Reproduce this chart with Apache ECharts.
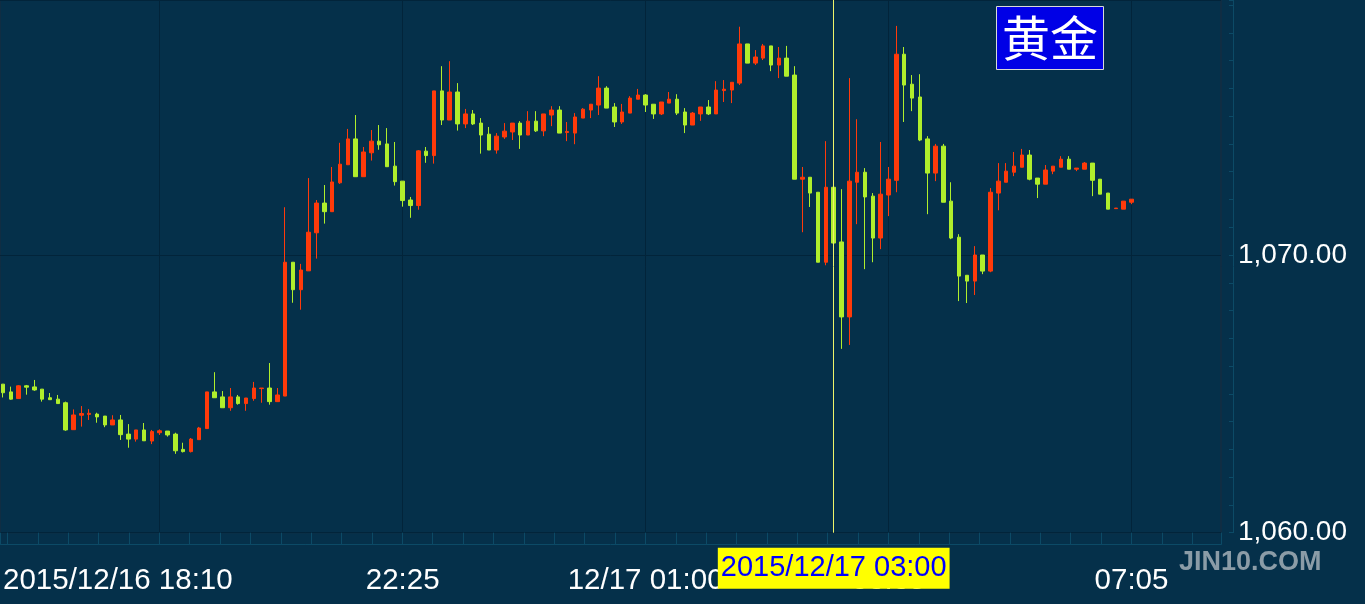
<!DOCTYPE html>
<html><head><meta charset="utf-8">
<script src="https://cdn.jsdelivr.net/npm/echarts@6/dist/echarts.min.js"></script>
<style>html,body{margin:0;padding:0;background:#05304a;}#c{width:1365px;height:604px;}</style>
</head><body><div id="c"></div>
<script>
// ---- data (5-minute candles, gold) ----
const opens = [1065.35,1065.07,1064.83,1065.29,1065.25,1065.17,1064.86,1064.81,1064.68,1063.71,
1064.23,1064.26,1064.27,1064.20,1063.88,1064.06,1063.55,1063.37,1063.70,1063.30,
1063.60,1063.66,1063.55,1063.00,1062.92,1063.35,1063.75,1065.07,1064.89,1064.50,
1064.89,1064.65,1064.83,1065.19,1065.21,1064.72,1064.92,1069.74,1068.75,1069.43,
1070.80,1071.87,1071.56,1072.60,1073.25,1074.18,1072.82,1073.68,1074.10,1074.00,
1073.20,1072.66,1071.98,1071.78,1073.74,1073.58,1075.91,1074.86,1075.87,1074.72,
1075.08,1074.75,1074.35,1073.78,1074.25,1074.43,1074.75,1074.32,1074.82,1074.47,
1075.04,1075.22,1074.41,1074.39,1074.93,1075.22,1075.40,1076.01,1075.33,1074.79,
1075.11,1075.61,1075.76,1075.43,1075.08,1075.47,1075.61,1075.15,1074.68,1075.08,
1075.33,1075.08,1075.92,1075.94,1076.19,1077.60,1076.91,1077.09,1077.53,1076.84,
1077.09,1076.48,1072.73,1072.80,1072.26,1069.74,1072.44,1070.47,1067.77,1072.62,
1072.98,1072.12,1070.61,1072.16,1072.69,1077.23,1076.15,1075.69,1074.18,1072.95,
1073.92,1071.94,1070.64,1069.27,1069.06,1070.00,1069.42,1072.23,1072.62,1072.98,
1073.16,1073.60,1072.77,1072.55,1073.02,1073.16,1073.45,1073.09,1073.09,1073.31,
1072.73,1072.23,1071.67,1071.65,1071.90];
const closes = [1065.04,1064.81,1065.29,1065.24,1065.14,1064.81,1064.79,1064.65,1063.70,1064.24,
1064.29,1064.30,1064.17,1063.88,1064.06,1063.53,1063.37,1063.70,1063.31,1063.64,
1063.67,1063.52,1062.95,1062.92,1063.37,1063.77,1065.07,1064.86,1064.50,1064.89,
1064.65,1064.85,1065.21,1065.21,1064.72,1064.96,1069.74,1068.75,1069.46,1070.82,
1071.87,1071.56,1072.63,1073.27,1074.18,1072.82,1073.71,1074.10,1073.97,1073.18,
1072.64,1071.96,1071.78,1073.75,1073.58,1075.91,1074.86,1075.87,1074.72,1075.08,
1074.72,1074.32,1073.78,1074.28,1074.46,1074.75,1074.32,1074.82,1074.47,1075.08,
1075.22,1074.39,1074.45,1074.97,1075.25,1075.43,1076.01,1075.29,1074.79,1075.15,
1075.65,1075.76,1075.40,1075.08,1075.51,1075.61,1075.11,1074.68,1075.11,1075.33,
1075.08,1075.94,1075.97,1076.22,1077.60,1076.91,1077.13,1077.53,1076.84,1077.09,
1076.44,1072.73,1072.80,1072.23,1069.74,1072.44,1070.43,1067.77,1072.66,1072.98,
1072.09,1070.61,1072.19,1072.73,1077.23,1076.12,1075.65,1074.14,1072.95,1073.92,
1071.90,1070.61,1069.24,1069.06,1070.00,1069.42,1072.26,1072.66,1073.02,1073.20,
1073.60,1072.73,1072.55,1073.06,1073.20,1073.45,1073.09,1073.13,1073.31,1072.69,
1072.19,1071.65,1071.69,1071.94,1072.01];
const lows = [1064.87,1064.79,1064.83,1064.97,1065.11,1064.72,1064.79,1064.65,1063.67,1063.71,
1063.82,1064.06,1063.96,1063.80,1063.88,1063.34,1063.06,1063.28,1063.31,1063.19,
1063.52,1063.46,1062.84,1062.89,1062.89,1063.35,1063.75,1064.86,1064.50,1064.39,
1064.61,1064.39,1064.75,1064.68,1064.61,1064.72,1064.92,1068.28,1068.03,1069.43,
1069.87,1071.13,1071.56,1072.56,1073.25,1072.82,1072.82,1073.40,1073.79,1073.18,
1072.50,1071.74,1071.34,1071.63,1073.32,1073.29,1074.68,1074.86,1074.48,1074.57,
1074.68,1073.65,1073.78,1073.65,1074.18,1074.14,1073.82,1074.32,1074.43,1074.28,
1074.64,1074.39,1074.10,1073.99,1074.93,1074.93,1075.04,1075.29,1074.61,1074.72,
1075.11,1075.61,1075.15,1074.90,1075.04,1075.47,1075.04,1074.39,1074.68,1074.83,
1075.04,1075.08,1075.51,1075.47,1076.12,1076.91,1076.84,1077.02,1076.62,1076.37,
1076.44,1072.73,1070.82,1071.73,1069.74,1069.63,1070.20,1066.62,1066.76,1071.11,
1069.49,1069.74,1070.21,1071.40,1072.26,1074.79,1075.18,1074.10,1071.47,1072.66,
1071.90,1070.57,1068.34,1068.27,1068.56,1069.31,1069.38,1071.61,1072.62,1072.84,
1073.16,1072.69,1072.05,1072.55,1072.91,1073.16,1073.09,1073.02,1073.09,1072.12,
1072.19,1071.65,1071.67,1071.65,1071.83];
const highs = [1065.35,1065.26,1065.31,1065.32,1065.50,1065.17,1065.03,1064.96,1064.72,1064.44,
1064.56,1064.45,1064.32,1064.20,1064.23,1064.24,1063.91,1063.70,1063.95,1063.70,
1063.72,1063.66,1063.60,1063.24,1063.41,1063.81,1065.07,1065.78,1065.10,1065.21,
1064.96,1064.85,1065.43,1065.21,1066.11,1065.21,1071.72,1069.74,1069.68,1072.77,
1071.98,1072.52,1073.17,1074.04,1074.54,1075.04,1073.89,1074.50,1074.68,1074.57,
1074.07,1072.66,1072.09,1073.78,1073.89,1075.91,1076.80,1076.98,1076.19,1075.26,
1075.22,1074.93,1074.61,1074.39,1074.75,1074.75,1074.82,1075.18,1075.18,1075.08,
1075.36,1075.36,1074.79,1075.11,1075.29,1075.43,1076.44,1076.08,1075.47,1075.44,
1075.72,1075.98,1075.79,1075.43,1075.51,1075.87,1075.79,1075.29,1075.15,1075.33,
1075.58,1076.26,1076.30,1076.22,1078.22,1077.60,1077.38,1077.60,1077.53,1077.49,
1077.53,1076.80,1073.17,1072.80,1072.26,1074.10,1072.60,1072.37,1076.37,1074.89,
1073.13,1072.23,1074.07,1073.17,1078.25,1077.49,1076.48,1076.51,1074.28,1074.00,
1074.00,1072.62,1070.75,1069.27,1070.32,1070.00,1072.41,1073.31,1073.31,1073.71,
1073.82,1073.78,1072.77,1073.24,1073.20,1073.56,1073.56,1073.13,1073.35,1073.31,
1072.73,1072.23,1071.69,1071.94,1072.01];
const tickLabels = {0:'2015/12/16 18:10', 51:'22:25', 82:'12/17 01:00', 113:'03:35', 144:'07:05'};
const gridIndices = [20, 51, 82, 113, 144];
const slotCount = 156;
const categories = Array.from({length: slotCount}, (_, i) => String(i));
const crosshairIndex = 106;
const crosshairLabel = '2015/12/17 03:00';
const yMin = 1060, yLabelStep = 10, yMinorStep = 1;
const instrument = '黄金';
const watermark = 'JIN10.COM';

// ---- layout ----
const W = 1365, H = 604;
const firstX = 2.5, step = 7.84;
const frameRight = 1221, frameBottom = 532.7, pxPerUnit = 27.77;
const yTop = yMin + frameBottom / pxPerUnit;   // value at the top edge of the plot
const gridBottom = H - frameBottom;
const candleRight = firstX + (slotCount - 1) * step;
const minorPx = 31 * step / 8;
const anchorPx = firstX + gridIndices[0] * step;

const BG = '#05304a', GRID = '#02243a', FRAME = '#1c2b3d', OUTER = '#0c4a66';
const UP = '#ff3a0a', DOWN = '#b0ee2c';
const FONT = 'Liberation Sans, Arial, sans-serif';
const fmt = (v) => v.toLocaleString('en-US', {minimumFractionDigits: 2, maximumFractionDigits: 2});

const chart = echarts.init(document.getElementById('c'), null, {renderer: 'canvas'});
chart.setOption({
  backgroundColor: BG,
  animation: false,
  axisPointer: {triggerOn: 'none'},
  title: [
    {text: instrument, left: 996, top: 6, padding: [8, 6], backgroundColor: '#0000e6',
     borderColor: '#d8d8d8', borderWidth: 1,
     textStyle: {color: '#ffffff', fontSize: 48, fontWeight: 'normal', lineHeight: 48,
       fontFamily: 'Noto Sans CJK SC'}},
    {text: watermark, left: 1179, top: 549, padding: 0,
     textStyle: {color: '#8b9ca7', fontSize: 27, fontWeight: 'bold', fontFamily: FONT}}
  ],
  grid: [
    {left: firstX, right: W - candleRight, top: 0, bottom: gridBottom, show: false},
    {left: 0, right: W - frameRight, top: 0, bottom: gridBottom, show: true,
     borderColor: FRAME, borderWidth: 1, backgroundColor: 'transparent'}
  ],
  xAxis: [
    {type: 'category', gridIndex: 0, data: categories, boundaryGap: false, offset: 12,
     axisLine: {show: false, onZero: false}, axisTick: {show: false},
     axisLabel: {interval: (i) => tickLabels[i] !== undefined, formatter: (v, i) => tickLabels[i] || '',
       alignMinLabel: 'left', margin: 21, fontSize: 29.5, color: '#ffffff', fontFamily: FONT},
     splitLine: {show: true, interval: (i) => gridIndices.includes(i), lineStyle: {color: GRID, width: 1}},
     axisPointer: {show: true, type: 'line', value: crosshairIndex, status: 'show', snap: true,
       triggerTooltip: false,
       lineStyle: {color: '#eef36a', width: 1, type: 'solid'},
       label: {show: true, formatter: () => crosshairLabel, backgroundColor: '#ffff00', color: '#0000ff',
         fontSize: 29, fontFamily: FONT, padding: [6, 3], margin: 3, borderRadius: 0}}},
    {type: 'value', gridIndex: 1, min: (0 - anchorPx) / minorPx, max: (frameRight - anchorPx) / minorPx,
     minInterval: 1, maxInterval: 1, position: 'bottom', offset: 12,
     axisLine: {show: true, onZero: false, lineStyle: {color: OUTER, width: 1}},
     axisTick: {show: true, inside: true, length: 12, lineStyle: {color: OUTER}},
     axisLabel: {show: false}, splitLine: {show: false}, axisPointer: {show: false}}
  ],
  yAxis: [
    {type: 'value', gridIndex: 0, min: yMin, max: yTop, show: false,
     splitLine: {show: false}, axisPointer: {show: false}},
    {type: 'value', gridIndex: 1, min: yMin, max: yTop, interval: yLabelStep, position: 'right', offset: 12,
     axisLine: {show: false, onZero: false}, axisTick: {show: false},
     splitLine: {show: true, lineStyle: {color: GRID, width: 1}},
     axisLabel: {margin: 5, fontSize: 28, color: '#ffffff', fontFamily: FONT, showMaxLabel: false,
       formatter: (v) => (Math.abs(v - Math.round(v / yLabelStep) * yLabelStep) < 1e-6 ? fmt(v) : '')},
     axisPointer: {show: false}},
    {type: 'value', gridIndex: 1, min: yMin, max: yTop, interval: yMinorStep, position: 'right', offset: 12,
     axisLine: {show: true, onZero: false, lineStyle: {color: OUTER, width: 1}},
     axisTick: {show: true, inside: true, length: 4, lineStyle: {color: OUTER}},
     axisLabel: {show: false}, splitLine: {show: false}, axisPointer: {show: false}}
  ],
  series: [{
    type: 'candlestick', xAxisIndex: 0, yAxisIndex: 0, clip: false, barWidth: 4,
    data: opens.map((o, i) => [o, closes[i], lows[i], highs[i]]),
    itemStyle: {color: UP, color0: DOWN, borderColor: UP, borderColor0: DOWN, borderWidth: 1}
  }]
});
</script></body></html>
